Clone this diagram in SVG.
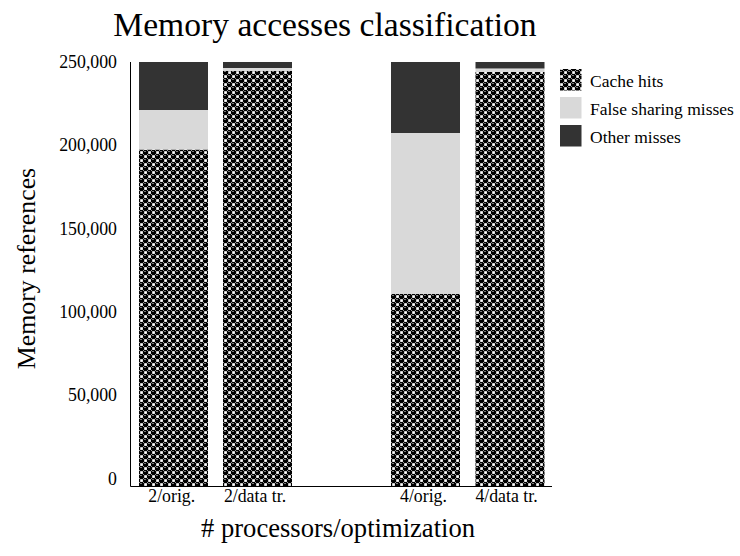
<svg xmlns="http://www.w3.org/2000/svg" width="740" height="556" viewBox="0 0 740 556">
  <defs>
    <!-- 8x8 "sphere" fill: black balls with highlights, checkered with white boxes -->
    <pattern id="sphere" patternUnits="userSpaceOnUse" width="8" height="8" x="139" y="62">
      <rect width="8" height="8" fill="#000"/>
      <g fill="#fff">
        <rect x="1.2" y="1.2" width="2.7" height="2.7"/>
        <rect x="5.2" y="5.2" width="2.7" height="2.7"/>
      </g>
      <g fill="#9a9a9a">
        <rect x="5.2" y="1" width="1.6" height="1"/>
        <rect x="1.2" y="5" width="1.6" height="1"/>
        <rect x="0" y="0" width="1" height="1"/>
        <rect x="4" y="0" width="1" height="1"/>
        <rect x="0" y="4" width="1" height="1"/>
        <rect x="4" y="4" width="1" height="1"/>
      </g>
    </pattern>
    <style>
      text { font-family: "Liberation Serif", "Times New Roman", serif; fill: #000; }
      .title { font-size: 33.6px; text-anchor: middle; }
      .axis-title { font-size: 25.8px; text-anchor: middle; }
      .x-title { font-size: 26.6px; }
      .tick { font-size: 17.8px; }
      .ytick { text-anchor: end; }
      .xtick { text-anchor: middle; }
      .legend { font-size: 17.5px; }
      .hits { fill: url(#sphere); }
      .fs { fill: #d9d9d9; }
      .other { fill: #333333; }
      .axis { stroke: #000; stroke-width: 1; fill: none; }
    </style>
  </defs>

  <rect width="740" height="556" fill="#fff"/>

  <text class="title" x="325" y="36">Memory accesses classification</text>

  <!-- stacked bars: cache hits at the bottom, false sharing misses, other misses on top -->
  <g id="bar-2-orig">
    <rect class="hits" x="139" y="149.5" width="69" height="336.5"/>
    <rect class="fs" x="139" y="110" width="69" height="39.5"/>
    <rect class="other" x="139" y="62" width="69" height="48"/>
  </g>
  <g id="bar-2-data">
    <rect class="hits" x="223" y="71" width="69" height="415"/>
    <rect class="fs" x="223" y="68" width="69" height="3"/>
    <rect class="other" x="223" y="62" width="69" height="6"/>
  </g>
  <g id="bar-4-orig">
    <rect class="hits" x="391" y="294" width="69" height="192"/>
    <rect class="fs" x="391" y="133" width="69" height="161"/>
    <rect class="other" x="391" y="62" width="69" height="71"/>
  </g>
  <g id="bar-4-data">
    <rect class="hits" x="475.5" y="72" width="69" height="414"/>
    <rect class="fs" x="475.5" y="68.5" width="69" height="3.5"/>
    <rect class="other" x="475.5" y="62" width="69" height="6.5"/>
  </g>

  <!-- axes -->
  <g id="axes">
    <path class="axis" d="M130.5 62 V486.5 H552"/>
  </g>

  <g id="y-ticks">
    <text class="tick ytick" x="117" y="67.7">250,000</text>
    <text class="tick ytick" x="117" y="151.1">200,000</text>
    <text class="tick ytick" x="117" y="234.5">150,000</text>
    <text class="tick ytick" x="117" y="317.9">100,000</text>
    <text class="tick ytick" x="117" y="401.3">50,000</text>
    <text class="tick ytick" x="117" y="484.7">0</text>
  </g>

  <g id="x-ticks">
    <text class="tick xtick" x="171.7" y="502">2/orig.</text>
    <text class="tick xtick" x="255" y="502">2/data tr.</text>
    <text class="tick xtick" x="423.5" y="502">4/orig.</text>
    <text class="tick xtick" x="506.5" y="502">4/data tr.</text>
  </g>

  <text class="axis-title x-title" x="338" y="537"># processors/optimization</text>
  <text class="axis-title" transform="translate(34.5 268.5) rotate(-90)" x="0" y="0">Memory references</text>

  <!-- legend -->
  <g id="legend-hits">
    <rect class="hits" x="560" y="69" width="21.5" height="21.5"/>
    <text class="legend" x="590" y="86.5">Cache hits</text>
  </g>
  <g id="legend-fs">
    <rect class="fs" x="560" y="97" width="21.5" height="21.5"/>
    <text class="legend" x="590" y="114.5">False sharing misses</text>
  </g>
  <g id="legend-other">
    <rect class="other" x="560" y="125" width="21.5" height="21.5"/>
    <text class="legend" x="590" y="142.5">Other misses</text>
  </g>
</svg>
